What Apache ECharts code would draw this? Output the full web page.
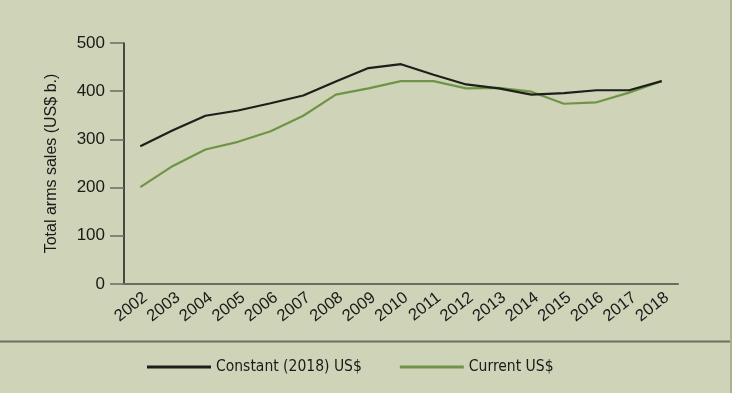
<!DOCTYPE html>
<html><head><meta charset="utf-8">
<script src="https://cdn.jsdelivr.net/npm/echarts@6/dist/echarts.min.js"></script>
<style>html,body{margin:0;padding:0;background:#cfd3b8;}#c{width:732px;height:393px;}</style>
</head><body><div id="c"></div>
<script>
const years = ['2002','2003','2004','2005','2006','2007','2008','2009','2010','2011','2012','2013','2014','2015','2016','2017','2018'];
const constantUSD = [286,319,349,360,375,391,420,448,456,434,414,406,393,396,402,402,421];
const currentUSD = [201,245,279,295,317,349,393,406,421,421,406,407,399,374,377,397,421];
const yTicks = [0,100,200,300,400,500];

const chart = echarts.init(document.getElementById('c'));
chart.setOption({
  backgroundColor: '#cfd3b8',
  animation: false,
  grid: {left: 124, right: 54, top: 43, bottom: 109, containLabel: false},
  xAxis: {
    type: 'category', data: years, boundaryGap: true,
    axisLine: {lineStyle: {color: '#6b6b64', width: 2}},
    axisTick: {alignWithLabel: true, length: 7, lineStyle: {color: '#6b6b64', width: 1.5}},
    axisLabel: {rotate: 38, verticalAlign: 'top', color: '#1a1a1a', fontFamily: 'Liberation Sans', fontSize: 16.5, margin: 5, interval: 0}
  },
  yAxis: {
    type: 'value', min: yTicks[0], max: yTicks[yTicks.length-1], interval: 100,
    name: 'Total arms sales (US$ b.)', nameLocation: 'middle', nameGap: 64,
    nameTextStyle: {color: '#1a1a1a', fontFamily: 'Liberation Sans', fontSize: 16},
    splitLine: {show: false},
    axisLine: {show: true, lineStyle: {color: '#1a1a1a', width: 1.5}},
    axisTick: {show: true, length: 14, lineStyle: {color: '#6b6b64', width: 1.5}},
    axisLabel: {color: '#1a1a1a', fontFamily: 'Liberation Sans', fontSize: 17, margin: 19}
  },
  legend: {
    bottom: 13, left: 142, itemWidth: 64, itemHeight: 3, itemGap: 38,
    icon: 'rect',
    textStyle: {color: '#1a1a1a', fontFamily: 'DejaVu Sans Condensed', fontSize: 15.5},
    data: [{name: 'Constant (2018) US$'}, {name: 'Current US$'}]
  },
  series: [
    {name: 'Constant (2018) US$', type: 'line', data: constantUSD, symbol: 'none',
     lineStyle: {color: '#1c1f1a', width: 2.2}, itemStyle: {color: '#1c1f1a'}, z: 3},
    {name: 'Current US$', type: 'line', data: currentUSD, symbol: 'none',
     lineStyle: {color: '#6f9447', width: 2.2}, itemStyle: {color: '#6f9447'}, z: 2}
  ],
  graphic: [
    {type: 'rect', shape: {x: 0, y: 340.5, width: 730, height: 2}, style: {fill: '#6c6f62'}},
    {type: 'rect', shape: {x: 730, y: 0, width: 2, height: 393}, style: {fill: '#a7b489'}}
  ]
});
</script></body></html>
